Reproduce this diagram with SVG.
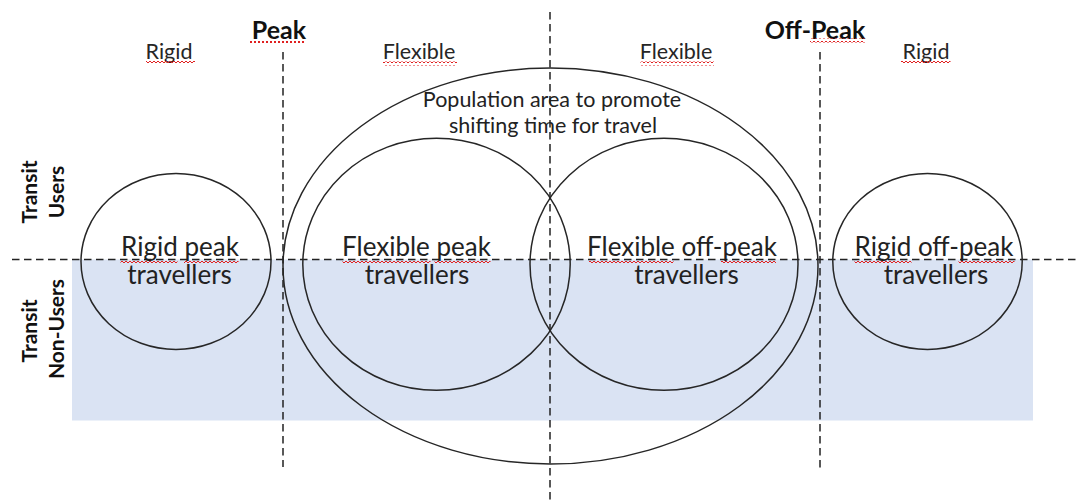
<svg xmlns="http://www.w3.org/2000/svg" width="1079" height="504" viewBox="0 0 1079 504">
  <style>
    .bg { fill: #ffffff; }
    .band { fill: #dae3f3; }
    .guide { fill: none; stroke: #222222; stroke-width: 1.5; stroke-dasharray: 7.5 4.5; }
    .ring { fill: none; stroke: #262626; stroke-width: 1.5; }
    .hdr { font-family: Lato, "Liberation Sans", sans-serif; font-size: 21.5px; fill: #262626; text-anchor: middle; }
    .title { font-family: Lato, "Liberation Sans", sans-serif; font-size: 25px; font-weight: bold; fill: #111111; text-anchor: middle; }
    .side { font-family: Lato, "Liberation Sans", sans-serif; font-size: 21px; font-weight: bold; fill: #111111; text-anchor: middle; }
    .lbl { font-family: Lato, "Liberation Sans", sans-serif; font-size: 26px; fill: #222222; text-anchor: middle; }
    .note { font-family: Lato, "Liberation Sans", sans-serif; font-size: 21.5px; fill: #222222; text-anchor: middle; }
    .sq { fill: url(#wavy); }
    .dots { stroke: #e02020; stroke-width: 2; stroke-dasharray: 2 2; fill: none; }
  </style>
  <defs>
    <!-- red wavy underline tile -->
    <pattern id="wavy" width="4" height="4" patternUnits="userSpaceOnUse">
      <path d="M0 3 L2 1 L4 3" fill="none" stroke="#e02020" stroke-width="1"/>
    </pattern>
  </defs>

  <rect class="bg" x="0" y="0" width="1079" height="504"/>

  <!-- shaded non-user band -->
  <rect class="band" x="72" y="259.5" width="961" height="161"/>

  <!-- dashed guide lines -->
  <g id="connectors">
    <line class="guide" x1="12" y1="259.5" x2="1079" y2="259.5"/>
    <line class="guide" x1="283" y1="52" x2="283" y2="467"/>
    <line class="guide" x1="550" y1="12" x2="550" y2="502"/>
    <line class="guide" x1="820" y1="52" x2="820" y2="470"/>
  </g>

  <!-- column headings -->
  <g id="headings">
    <text class="title" x="279" y="38.5">Peak</text>
    <text class="title" x="815" y="38.5">Off-Peak</text>
    <text class="hdr" x="169" y="59">Rigid</text>
    <text class="hdr" x="419" y="59">Flexible</text>
    <text class="hdr" x="676" y="59">Flexible</text>
    <text class="hdr" x="926" y="59">Rigid</text>
  </g>

  <!-- row headings -->
  <g id="row-users">
    <text class="side" transform="translate(36.5 192) rotate(-90)">Transit</text>
    <text class="side" transform="translate(63.5 192) rotate(-90)">Users</text>
  </g>
  <g id="row-non-users">
    <text class="side" transform="translate(36.5 331) rotate(-90)">Transit</text>
    <text class="side" transform="translate(63.5 329) rotate(-90)">Non-Users</text>
  </g>

  <!-- outer population ellipse -->
  <g id="population-area">
    <ellipse class="ring" cx="550.5" cy="266" rx="267.5" ry="198"/>
    <text class="note" x="552" y="106.5">Population area to promote</text>
    <text class="note" x="553" y="133">shifting time for travel</text>
  </g>

  <g id="rigid-peak">
    <ellipse class="ring" cx="176" cy="261.5" rx="95" ry="88"/>
    <text class="lbl" x="180" y="255.5">Rigid peak</text>
    <text class="lbl" x="179.5" y="284">travellers</text>
  </g>

  <g id="flexible-peak">
    <ellipse class="ring" cx="436.5" cy="264.3" rx="133.7" ry="126"/>
    <text class="lbl" x="416.5" y="255.5">Flexible peak</text>
    <text class="lbl" x="417" y="284">travellers</text>
  </g>

  <g id="flexible-off-peak">
    <ellipse class="ring" cx="664" cy="264.3" rx="134" ry="126"/>
    <text class="lbl" x="682" y="255.5">Flexible off-peak</text>
    <text class="lbl" x="686.5" y="284">travellers</text>
  </g>

  <g id="rigid-off-peak">
    <ellipse class="ring" cx="927.5" cy="261.5" rx="94.7" ry="88"/>
    <text class="lbl" x="934" y="255.5">Rigid off-peak</text>
    <text class="lbl" x="936" y="284">travellers</text>
  </g>

  <!-- proofing underlines -->
  <g id="squiggles">
    <line class="dots" x1="250" y1="42" x2="306" y2="42"/>
    <rect class="sq" x="810" y="38.5" width="55" height="4"/>
    <rect class="sq" x="146" y="60.5" width="49" height="4"/>
    <rect class="sq" x="383" y="61.5" width="74" height="4"/>
    <rect class="sq" x="640.5" y="61.5" width="73.5" height="4"/>
    <rect class="sq" x="901" y="60.5" width="49.5" height="4"/>
    <rect class="sq" x="120.5" y="259" width="57" height="4"/>
    <rect class="sq" x="184" y="259" width="54.5" height="4"/>
    <rect class="sq" x="342.5" y="259" width="88" height="4"/>
    <rect class="sq" x="434.5" y="259" width="56" height="4"/>
    <rect class="sq" x="589" y="259" width="84.5" height="4"/>
    <rect class="sq" x="721" y="259" width="55" height="4"/>
    <rect class="sq" x="854.5" y="259" width="57" height="4"/>
    <rect class="sq" x="958.5" y="259" width="56" height="4"/>
  </g>
</svg>
